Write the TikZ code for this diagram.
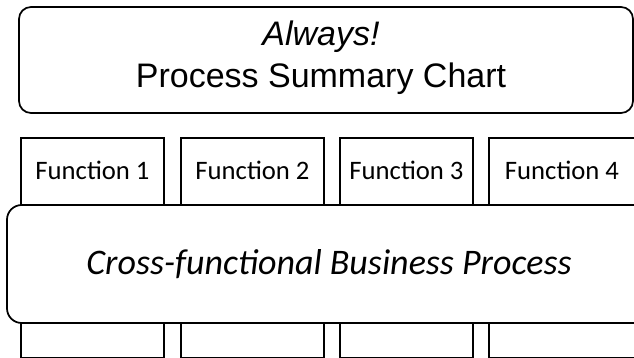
\documentclass[tikz,border=0pt]{standalone}
\usepackage{fontspec}
\setmainfont{Carlito}
\newfontfamily\arialfont{Liberation Sans}
\usetikzlibrary{positioning}

\tikzset{
  frame/.style={draw=black, line width=1.3pt},
  fnlabel/.style={font=\fontsize{20}{24}\selectfont, inner sep=0pt}
}

\begin{document}
\begin{tikzpicture}[x=0.75pt,y=-0.75pt]

  \useasboundingbox (0,0) rectangle (634,357);
  \clip (0,0) rectangle (634,357);

  % Title box
  \draw[frame, rounded corners=9pt] (19,7) rectangle (633,113);
  \node[font=\arialfont\fontsize{25.5}{31.5}\selectfont, align=center] (title) at (321,58)
    {\itshape Always!\\Process Summary Chart};

  % Function columns
  \draw[frame] (21,138) rectangle (164,358);
  \draw[frame] (181,138) rectangle (324,358);
  \draw[frame] (340,138) rectangle (473,358);
  \draw[frame] (489,138) rectangle (636,358);
  \node[fnlabel] (fn1) at (92.5,170) {Function 1};
  \node[fnlabel] (fn2) at (252.5,170) {Function 2};
  \node[fnlabel] (fn3) at (406.5,170) {Function 3};
  \node[fnlabel] (fn4) at (562,170) {Function 4};

  % Process band across the columns
  \draw[frame, fill=white, rounded corners=11pt] (7,205) rectangle (651,323);
  \node[font=\itshape\fontsize{27}{32}\selectfont] (process) at (329,264)
    {Cross-functional Business Process};

\end{tikzpicture}
\end{document}
